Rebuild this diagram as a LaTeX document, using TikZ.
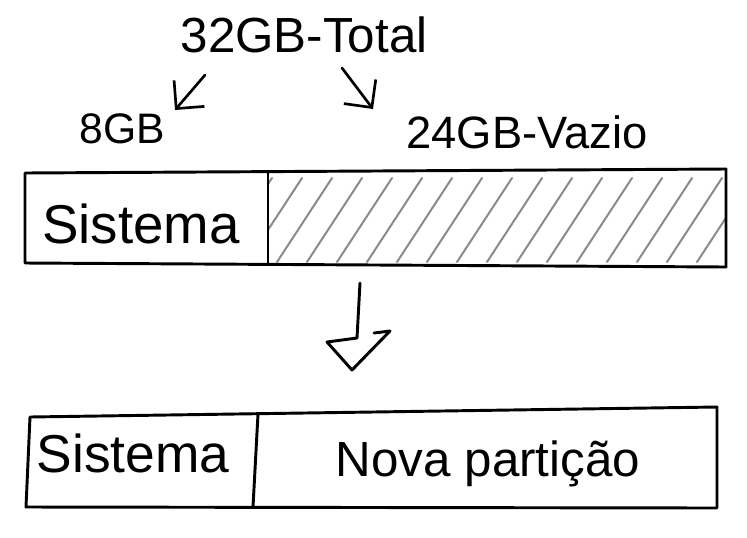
\documentclass[tikz,border=0pt]{standalone}
\usepackage{fontspec}
\setmainfont{Liberation Sans}
\usetikzlibrary{arrows.meta}
\definecolor{cinza}{RGB}{138,138,138}

\begin{document}
\begin{tikzpicture}[x=0.75pt, y=-0.75pt, line cap=round, line join=round,
    >={Straight Barb[length=15pt,width=30pt]},
    caixa/.style={line width=2.2pt},
    hachura/.style={line width=1.5pt, cinza},
    seta/.style={->, line width=2pt},
    texto/.style={anchor=base, inner sep=0pt}]
    \useasboundingbox (0,0) rectangle (747,537);

    % Barra de cima
    \coordinate (A) at (25,173);
    \coordinate (B) at (726,169);
    \coordinate (C) at (726,267);
    \coordinate (D) at (25,263);
    \coordinate (M) at (268,173);
    \coordinate (N) at (268,263);

    % Barra de baixo
    \coordinate (Ap) at (30,417);
    \coordinate (Bp) at (717,407);
    \coordinate (Cp) at (717,508);
    \coordinate (Dp) at (26,507);
    \coordinate (Mp) at (258,414);
    \coordinate (Np) at (253,507);

    % Hachura do espaco vazio
    \begin{scope}
        \clip (M) -- (B) -- (C) -- (N) -- cycle;
        \foreach \x in {272,302,...,782}
            \draw[hachura] (\x-55,262) -- (\x,178);
    \end{scope}

    % Contornos
    \draw[caixa] (A) -- (B) -- (C) -- (D) -- cycle;
    \draw[caixa] (M) -- (N);
    \draw[caixa] (Ap) -- (Bp) -- (Cp) -- (Dp) -- cycle;
    \draw[caixa] (Mp) -- (Np);

    % Setas do total
    \coordinate (e1) at (205,75);
    \coordinate (e2) at (175,110);
    \coordinate (d1) at (342,68);
    \coordinate (d2) at (373,109);
    \draw[seta] (e1) -- (e2);
    \draw[seta] (d1) -- (d2);

    % Seta grande para baixo
    \coordinate (s1) at (360,283);
    \coordinate (s2) at (357,338);
    \coordinate (ponta) at (352,370);
    \draw[caixa] (s1) -- (s2) -- (327,342) -- (ponta) -- (390,331) -- (374,333);

    % Textos
    \node[texto, font=\fontsize{37}{40}\selectfont] (total) at (304,52) {32GB-Total};
    \node[texto, font=\fontsize{32}{36}\selectfont] (oito) at (122,143) {8GB};
    \node[texto, font=\fontsize{34}{38}\selectfont] (vazio) at (527,148) {24GB-Vazio};
    \node[texto, font=\fontsize{41}{44}\selectfont] (sis1) at (141,243) {Sistema};
    \node[texto, font=\fontsize{40}{44}\selectfont] (sis2) at (133,472) {Sistema};
    \node[texto, font=\fontsize{37}{40}\selectfont] (nova) at (488,476) {Nova partição};
\end{tikzpicture}
\end{document}
